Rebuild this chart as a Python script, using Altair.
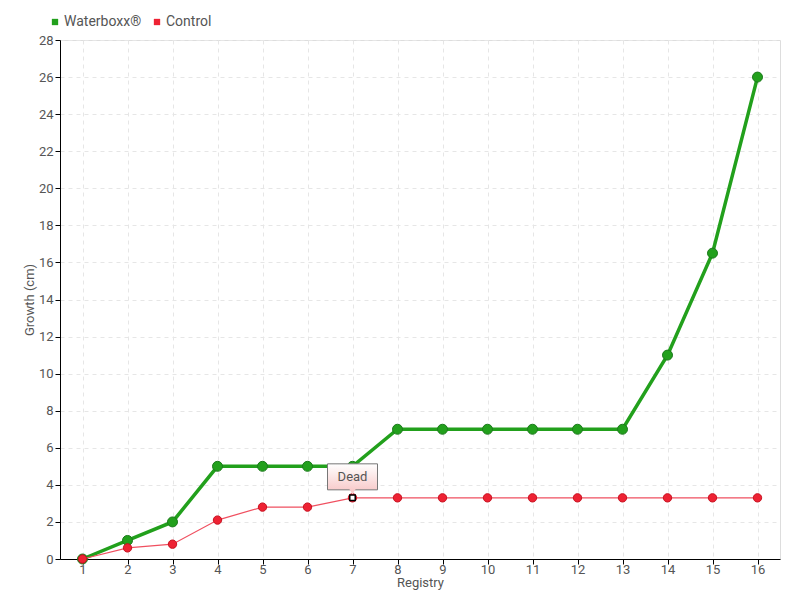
import altair as alt
import pandas as pd

registry = list(range(1, 17))
waterboxx = [0, 1, 2, 5, 5, 5, 5, 7, 7, 7, 7, 7, 7, 11, 16.5, 26]
control = [0, 0.6, 0.8, 2.1, 2.8, 2.8, 3.3, 3.3, 3.3, 3.3, 3.3, 3.3, 3.3, 3.3, 3.3, 3.3]
series_names = ["Waterboxx®", "Control"]
series_colors = ["#22a01c", "#ee2233"]
note_x = [7]
note_y = [3.3]
note_text = ["Dead"]

df = pd.DataFrame({
    "Registry": registry * 2,
    "Growth": waterboxx + control,
    "Series": [series_names[0]] * len(registry) + [series_names[1]] * len(registry),
})
wdf = df[df.Series == series_names[0]]
cdf = df[df.Series == series_names[1]]
note = pd.DataFrame({"Registry": note_x, "Growth": note_y, "text": note_text})

FONT = "Roboto"
GRAY = "#555555"

x = alt.X("Registry:Q",
          scale=alt.Scale(domain=[0.5, 16.5], nice=False, zero=False),
          axis=alt.Axis(values=registry, title="Registry", titlePadding=0,
                        grid=True, gridDash=[4, 4], gridColor="#e6e6e6",
                        domainColor="#000000", tickColor="#000000", tickSize=5,
                        labelPadding=-1,
                        labelColor=GRAY, titleColor=GRAY, labelFontSize=13,
                        titleFontSize=13, titleFontWeight="normal", labelFont=FONT,
                        titleFont=FONT))
y = alt.Y("Growth:Q",
          scale=alt.Scale(domain=[0, 28], nice=False),
          axis=alt.Axis(values=list(range(0, 29, 2)), title="Growth (cm)",
                        grid=True, gridDash=[4, 4], gridColor="#e6e6e6",
                        domainColor="#000000", tickColor="#000000", tickSize=5,
                        labelColor=GRAY, titleColor=GRAY, labelFontSize=13,
                        titleFontSize=13, titleFontWeight="normal", labelFont=FONT,
                        titleFont=FONT, titlePadding=2))
color = alt.Color("Series:N",
                  scale=alt.Scale(domain=series_names, range=series_colors),
                  legend=alt.Legend(title=None, orient="none", direction="horizontal",
                                    legendX=-12, legendY=-25, symbolType="square",
                                    symbolSize=40, labelFontSize=14, labelColor=GRAY,
                                    labelFont=FONT, columnPadding=8, symbolOffset=0,
                                    labelOffset=2, symbolStrokeWidth=0))

g_line = alt.Chart(wdf).mark_line(strokeWidth=3.5, color=series_colors[0]).encode(x=x, y=y)
g_pts = alt.Chart(wdf).mark_circle(size=100, opacity=1, stroke="#1c7a1c", strokeWidth=1
                                   ).encode(x=x, y=y, color=color)
c_line = alt.Chart(cdf).mark_line(strokeWidth=1.2, color="#f05060").encode(x=x, y=y)
c_pts = alt.Chart(cdf).mark_circle(size=70, opacity=1, stroke="#c8101f", strokeWidth=1
                                   ).encode(x=x, y=y, color=color)

grad = alt.Gradient(gradient="linear", x1=0, y1=0, x2=0, y2=1,
                    stops=[alt.GradientStop(offset=0, color="#ffffff"),
                           alt.GradientStop(offset=1, color="#f8cccc")])
box = alt.Chart(note).mark_rect(width=50, height=26, yOffset=-21, fill=grad,
                                stroke="#777777", strokeWidth=1).encode(x=x, y=y)
arrow = alt.Chart(note).mark_point(shape="triangle-down", size=40, filled=True,
                                   color="#f8cccc", opacity=1, yOffset=-6).encode(x=x, y=y)
txt = alt.Chart(note).mark_text(yOffset=-21, fontSize=13, color=GRAY, font=FONT).encode(
    x=x, y=y, text="text:N")
hl = alt.Chart(note).mark_point(shape="square", size=30, filled=True, color="#ffffff",
                                stroke="#000000", strokeWidth=1.5, opacity=1).encode(x=x, y=y)

chart = alt.layer(g_line, g_pts, c_line, c_pts, box, arrow, txt, hl).properties(
    width=720, height=519,
    padding={"left": 52, "top": 32, "right": 12, "bottom": 33},
    autosize=alt.AutoSizeParams(type="none"),
).configure_view(stroke=None).configure(background="#ffffff")

chart.save("out.html", embed_options={"renderer": "svg", "actions": False})
